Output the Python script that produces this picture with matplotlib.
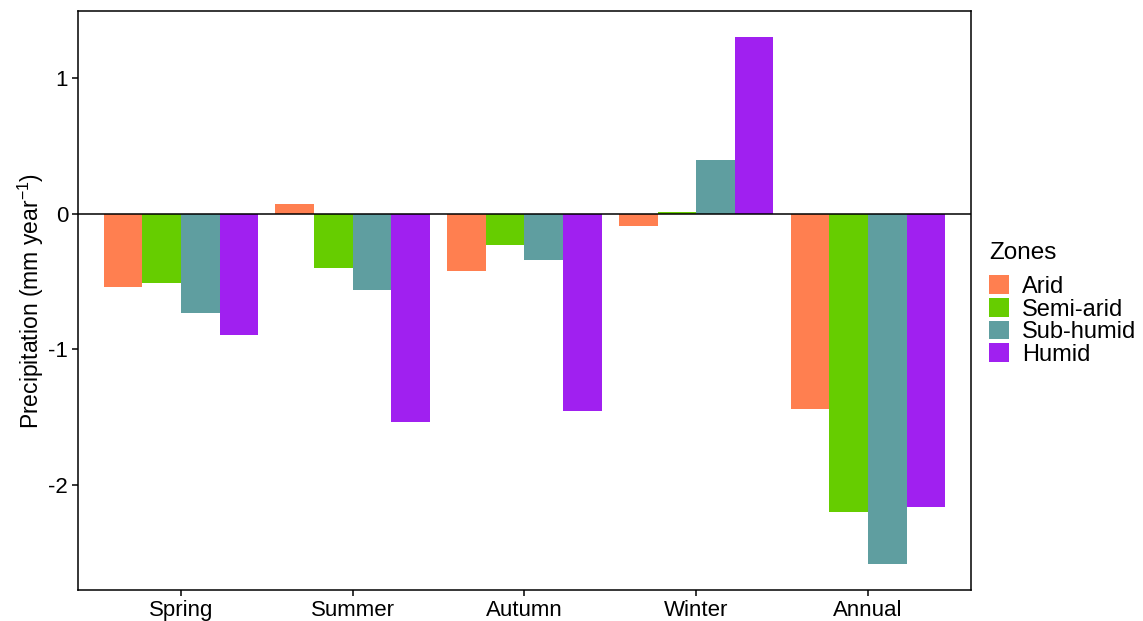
import numpy as np
import matplotlib
matplotlib.use("Agg")
import matplotlib.pyplot as plt
from matplotlib.patches import Patch

plt.rcParams['font.family'] = ['Liberation Sans', 'DejaVu Sans']
plt.rcParams['mathtext.fontset'] = 'custom'
plt.rcParams['mathtext.rm'] = 'Liberation Sans'
plt.rcParams['mathtext.it'] = 'Liberation Sans:italic'

seasons = ["Spring", "Summer", "Autumn", "Winter", "Annual"]
zones = ["Arid", "Semi-arid", "Sub-humid", "Humid"]
arid = [-0.54, 0.07, -0.42, -0.09, -1.44]
semi_arid = [-0.51, -0.40, -0.23, 0.01, -2.20]
sub_humid = [-0.735, -0.566, -0.34, 0.395, -2.58]
humid = [-0.897, -1.534, -1.458, 1.297, -2.164]
colors = ["#FF7F50", "#66CD00", "#5F9EA0", "#A020F0"]

series = [arid, semi_arid, sub_humid, humid]

fig = plt.figure(figsize=(11.43, 6.21), dpi=100)
ax = fig.add_axes([0.0682, 0.0499, 0.7813, 0.9321])

x = np.arange(1, len(seasons) + 1)
bw = 0.9 / len(zones)
for i, (vals, c) in enumerate(zip(series, colors)):
    offs = (i - 1.5) * bw
    ax.bar(x + offs, vals, width=bw, color=c, edgecolor='none', zorder=2)

ax.axhline(0, color='black', lw=1.1, zorder=3)

allv = np.concatenate([np.array(s) for s in series])
lo, hi = min(allv.min(), 0), max(allv.max(), 0)
pad = 0.05 * (hi - lo)
ax.set_ylim(lo - pad, hi + pad)
ax.set_xlim(0.4, 5.6)

ax.set_xticks(x)
ax.set_xticklabels(seasons)
ax.set_yticks([-2, -1, 0, 1])
ax.set_yticklabels(["-2", "-1", "0", "1"])
ax.tick_params(axis='both', labelsize=16, colors='black', length=4, width=1.1, direction='out', pad=3)
for s in ax.spines.values():
    s.set_color('black')
    s.set_linewidth(1.1)

ax.set_ylabel("Precipitation (mm year$^{-1}$)", fontsize=16.5, labelpad=2)

handles = [Patch(facecolor=c, edgecolor='none', label=z) for z, c in zip(zones, colors)]
leg = fig.legend(handles=handles, title="Zones", loc='upper left',
                 bbox_to_anchor=(0.857, 0.625), frameon=False, fontsize=17,
                 title_fontsize=17.5, handlelength=0.85, handleheight=0.85,
                 handletextpad=0.55, labelspacing=0.0, borderaxespad=0)
leg._legend_box.align = "left"
leg._legend_box.sep = 8

fig.savefig("out.png", dpi=100, facecolor='white')
